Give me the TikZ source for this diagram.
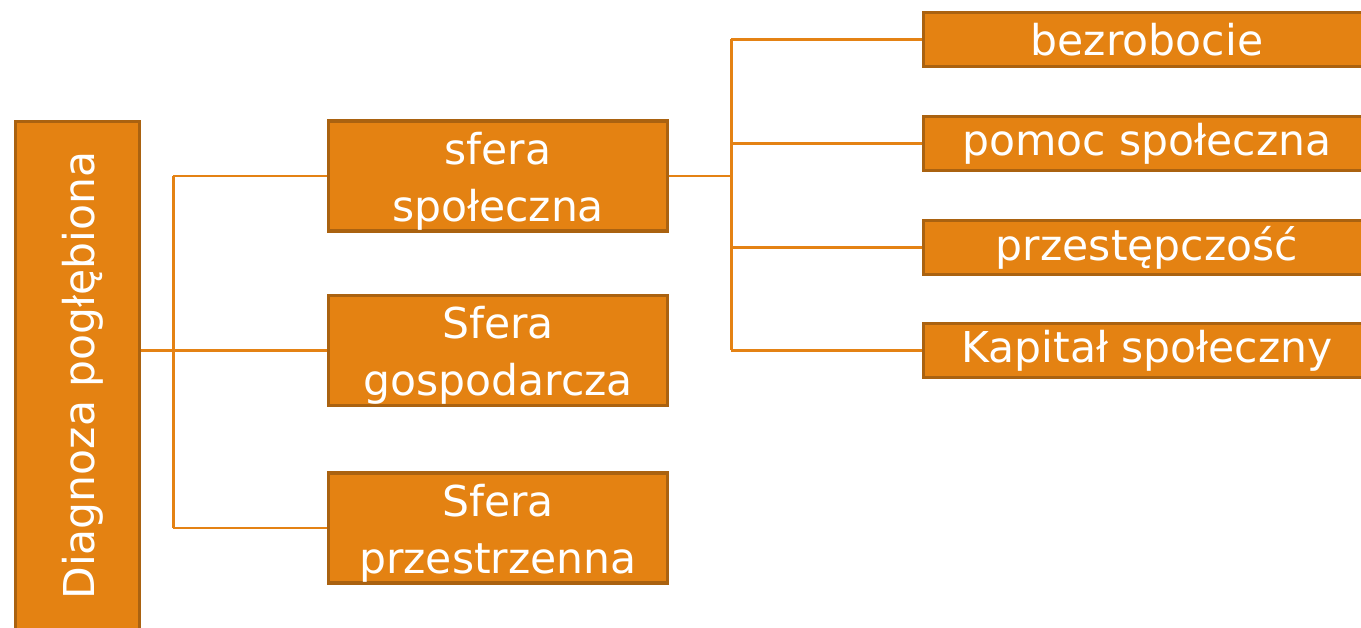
\documentclass[tikz,border=0pt]{standalone}
\usepackage{fontspec}
\setmainfont{DejaVu Sans}
\definecolor{boxfill}{RGB}{228,130,18}
\definecolor{boxline}{RGB}{170,98,16}
\definecolor{linkcol}{RGB}{228,130,20}
% lower a line of text without changing the size it reports
\newcommand{\lowertext}[2]{\raisebox{-#1}[\height][\depth]{#2}}
\begin{document}
\begin{tikzpicture}[x=1pt,y=-1pt,
  box/.style={draw=boxline, line width=3.5pt, fill=boxfill, text=white,
    inner sep=0pt, align=center, font=\fontsize{42.5}{57}\selectfont},
  midbox/.style={box, minimum width=339pt, minimum height=110pt},
  leafbox/.style={box, minimum width=447pt, minimum height=54pt},
  link/.style={draw=linkcol, line width=2.6pt}]
\useasboundingbox (0,0) rectangle (1361,628);
\clip (0,0) rectangle (1361,628);
\fill[white] (0,0) rectangle (1361,628);

% root, set vertically
\node[box, rotate=90, minimum width=508pt, minimum height=124pt] (diag) at (77.5,375.5) {\lowertext{5pt}{Diagnoza pogłębiona}};

% three spheres
\node[midbox] (spol) at (498,176) {\lowertext{5pt}{sfera}\\\lowertext{5pt}{społeczna}};
\node[midbox] (gosp) at (498,350.5) {\lowertext{5pt}{Sfera}\\\lowertext{5pt}{gospodarcza}};
\node[midbox] (prze) at (498,528) {\lowertext{5pt}{Sfera}\\\lowertext{5pt}{przestrzenna}};

% topics of the social sphere
\node[leafbox] (bezr) at (1147,39.5) {bezrobocie};
\node[leafbox] (pomo) at (1147,143.5) {pomoc społeczna};
\node[leafbox] (przs) at (1147,247.5) {przestępczość};
\node[leafbox] (kapi) at (1147,350.5) {Kapitał społeczny};

% root to spheres
\coordinate (rj) at ([xshift=32pt]diag.south);
\draw[link] (diag.south |- gosp.west) -- (gosp.west);
\draw[link] (rj |- spol.west) -- (rj |- prze.west);
\draw[link] (rj |- spol.west) -- (spol.west);
\draw[link] (rj |- prze.west) -- (prze.west);

% social sphere to topics
\coordinate (sj) at ([xshift=62pt]spol.east);
\draw[link] (spol.east) -- (sj);
\draw[link] (sj |- bezr.west) -- (sj |- kapi.west);
\draw[link] (sj |- bezr.west) -- (bezr.west);
\draw[link] (sj |- pomo.west) -- (pomo.west);
\draw[link] (sj |- przs.west) -- (przs.west);
\draw[link] (sj |- kapi.west) -- (kapi.west);
\end{tikzpicture}
\end{document}
